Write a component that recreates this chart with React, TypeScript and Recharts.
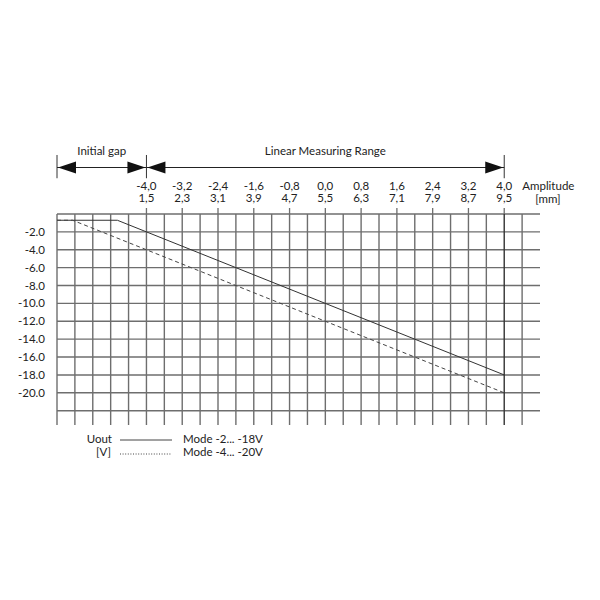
import React from 'react';
import { LineChart, Line, XAxis, YAxis, ReferenceLine } from 'recharts';

// amplitude axis (top), mm
const amplitudeTicks = [-4.0, -3.2, -2.4, -1.6, -0.8, 0.0, 0.8, 1.6, 2.4, 3.2, 4.0];
const distanceLabels = ['1,5', '2,3', '3,1', '3,9', '4,7', '5,5', '6,3', '7,1', '7,9', '8,7', '9,5'];
const voltTicks = [-2, -4, -6, -8, -10, -12, -14, -16, -18, -20];

const gridX = [
  -6.0, -5.6, -5.2, -4.8, -4.4, -4.0, -3.6, -3.2, -2.8, -2.4, -2.0, -1.6, -1.2, -0.8,
  -0.4, 0.0, 0.4, 0.8, 1.2, 1.6, 2.0, 2.4, 2.8, 3.2, 3.6, 4.0, 4.4,
];
const gridY = [0, -2, -4, -6, -8, -10, -12, -14, -16, -18, -20, -22];

// Uout curves
const mode18 = [
  { amp: -6.0, u: -0.7 },
  { amp: -4.65, u: -0.7 },
  { amp: 4.0, u: -18.0 },
];
const mode20 = [
  { amp: -6.0, u: -0.7 },
  { amp: -5.65, u: -0.7 },
  { amp: 4.0, u: -20.0 },
];

const rangeMarks = [-6.0, -4.0, 4.0];
const spans = [
  { label: 'Initial gap', from: -6.0, to: -4.0 },
  { label: 'Linear Measuring Range', from: -4.0, to: 4.0 },
];

const FONT = 'Lato, "Open Sans", sans-serif';
const FS = 11.5;
const INK = '#222';
const GRID = '#6e6e6e';

// annotation levels above the plot, in volt units
const ARROW_Y = 5.2;
const MARK_LOW = 4.0;
const MARK_HIGH = 6.6;

const AmpTick = (props: any) => {
  const { x, y, payload, index } = props;
  const v = payload.value as number;
  const top = v.toFixed(1).replace('.', ',');
  return (
    <g fontFamily={FONT} fontSize={FS} fill={INK}>
      <text x={x} y={y - 16} textAnchor="middle">{top}</text>
      <text x={x} y={y - 4} textAnchor="middle">{distanceLabels[index]}</text>
      {v === 4.0 ? (
        <>
          <text x={x + 18} y={y - 16} textAnchor="start">Amplitude</text>
          <text x={x + 31} y={y - 3} textAnchor="start">[mm]</text>
        </>
      ) : null}
    </g>
  );
};

const VoltTick = (props: any) => {
  const { x, y, payload } = props;
  return (
    <text x={x} y={y + 4} textAnchor="end" fontFamily={FONT} fontSize={FS} fill={INK}>
      {(payload.value as number).toFixed(1)}
    </text>
  );
};

const spanShape = (label: string) => (props: any) => {
  const { x1, y1, x2 } = props;
  const len = 18;
  const half = 6;
  return (
    <g>
      <line x1={x1} y1={y1} x2={x2} y2={y1} stroke={INK} strokeWidth={1} />
      <polygon points={`${x1 + 1},${y1} ${x1 + 1 + len},${y1 - half} ${x1 + 1 + len},${y1 + half}`} fill="#111" />
      <polygon points={`${x2 - 1},${y1} ${x2 - 1 - len},${y1 - half} ${x2 - 1 - len},${y1 + half}`} fill="#111" />
      <text x={(x1 + x2) / 2} y={y1 - 13} textAnchor="middle" fontFamily={FONT} fontSize={FS} fill={INK}>
        {label}
      </text>
    </g>
  );
};

const LegendBox = () => (
  <svg width={300} height={40} style={{ position: 'absolute', left: 60, top: 422 }}>
    <g fontFamily={FONT} fontSize={FS} fill={INK}>
      <text x={44} y={13} textAnchor="end">Uout</text>
      <line x1={52} y1={10} x2={104} y2={10} stroke="#444" strokeWidth={1} />
      <text x={115} y={13}>Mode -2... -18V</text>
      <text x={43} y={26} textAnchor="end">[V]</text>
      <line x1={52} y1={24} x2={104} y2={24} stroke="#444" strokeWidth={1} strokeDasharray="1 1.6" />
      <text x={115} y={26}>Mode -4... -20V</text>
    </g>
  </svg>
);

export default function App() {
  return (
    <div style={{ position: 'relative', width: 600, height: 600 }}>
      <LineChart width={600} height={600} margin={{ top: 176, right: 68, bottom: 183, left: 0 }}>
        <XAxis
          xAxisId="amp"
          dataKey="amp"
          type="number"
          orientation="top"
          domain={[-6.0, 4.8]}
          ticks={amplitudeTicks}
          interval={0}
          allowDataOverflow
          axisLine={false}
          tickSize={6}
          tickMargin={2}
          height={30}
          tickLine={{ stroke: GRID, strokeWidth: 1.3 }}
          tick={<AmpTick />}
        />
        <YAxis
          yAxisId="u"
          type="number"
          domain={[-23.6, 0]}
          ticks={voltTicks}
          interval={0}
          allowDataOverflow
          axisLine={false}
          tickLine={false}
          tickSize={0}
          tickMargin={12}
          width={49}
          tick={<VoltTick />}
        />
        {gridY.map((v) => (
          <ReferenceLine key={`gy${v}`} xAxisId="amp" yAxisId="u" y={v} stroke={GRID} strokeWidth={1.4} ifOverflow="visible" />
        ))}
        {gridX.map((v) => (
          <ReferenceLine
            key={`gx${v}`}
            xAxisId="amp"
            yAxisId="u"
            x={v}
            stroke={v === 4.0 ? '#333' : GRID}
            strokeWidth={1.4}
            ifOverflow="visible"
          />
        ))}
        {rangeMarks.map((v) => (
          <ReferenceLine
            key={`rm${v}`}
            xAxisId="amp"
            yAxisId="u"
            segment={[{ x: v, y: MARK_LOW }, { x: v, y: MARK_HIGH }]}
            stroke="#333"
            strokeWidth={1}
            ifOverflow="visible"
          />
        ))}
        {spans.map((s) => (
          <ReferenceLine
            key={s.label}
            xAxisId="amp"
            yAxisId="u"
            segment={[{ x: s.from, y: ARROW_Y }, { x: s.to, y: ARROW_Y }]}
            ifOverflow="visible"
            shape={spanShape(s.label)}
          />
        ))}
        <Line
          xAxisId="amp"
          yAxisId="u"
          data={mode18}
          dataKey="u"
          type="linear"
          stroke="#333"
          strokeWidth={1}
          dot={false}
          isAnimationActive={false}
        />
        <Line
          xAxisId="amp"
          yAxisId="u"
          data={mode20}
          dataKey="u"
          type="linear"
          stroke="#444"
          strokeWidth={1}
          strokeDasharray="4 3"
          dot={false}
          isAnimationActive={false}
        />
      </LineChart>
      <LegendBox />
    </div>
  );
}
